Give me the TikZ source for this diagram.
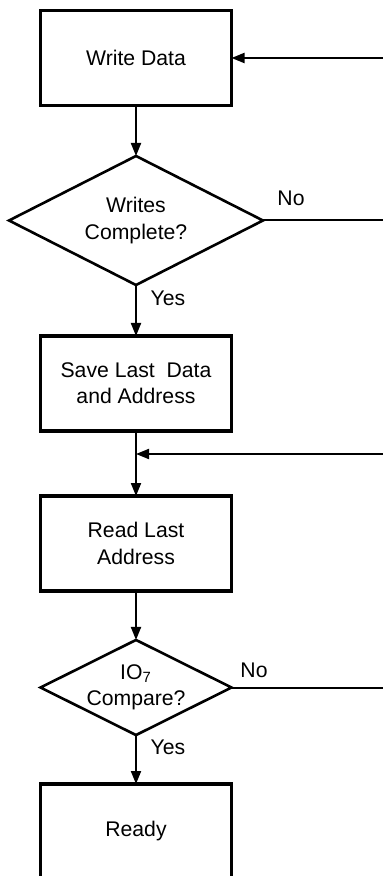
\documentclass[tikz,border=0pt]{standalone}
\usepackage{fontspec}
\setmainfont{Liberation Sans}
\usetikzlibrary{shapes.geometric,arrows.meta}
\tikzset{
    procbox/.style={draw, rectangle, line width=1.7pt, outer sep=0pt,
        minimum width=95.5pt, minimum height=47.5pt, align=center},
    decide/.style={draw, diamond, line width=1.3pt, outer sep=0pt, inner sep=0pt,
        shape aspect=2, align=center},
    flow/.style={line width=1pt, -{Triangle[length=6.5pt,width=5pt]}},
    plain/.style={line width=1pt},
    lbl/.style={inner sep=0pt}
}
\begin{document}
\begin{tikzpicture}[x=0.5pt,y=-0.5pt,
    font=\fontsize{10.6}{13.2}\selectfont]
    \useasboundingbox (0,0) rectangle (383,876);
    \clip (0,0) rectangle (383,876);
    % main column
    \node[procbox] (write) at (136,58) {Write Data};
    \node[decide, minimum width=127pt, minimum height=64.5pt] (dia1) at (136,220.5) {Writes\\Complete?};
    \node[procbox] (save) at (136,383.5) {Save Last\ \ Data\\and Address};
    \coordinate (join) at (136,454);
    \node[procbox] (read) at (136,543.5) {Read Last\\Address};
    \node[decide, minimum width=95.5pt, minimum height=47.5pt] (dia2) at (136,687.5) {IO\textsubscript{7}\\Compare?};
    \node[procbox] (ready) at (136,831.5) {Ready};
    % loose ends on the right
    \coordinate (back1) at (390,58);
    \coordinate (no1) at (390,220.5);
    \coordinate (back2) at (390,454);
    \coordinate (no2) at (390,687.5);
    % connectors
    \draw[flow] (write) -- (dia1);
    \draw[flow] (dia1) -- (save);
    \draw[plain] (save) -- (join);
    \draw[flow] (join) -- (read);
    \draw[flow] (read) -- (dia2);
    \draw[flow] (dia2) -- (ready);
    \draw[flow] (back1) -- (write);
    \draw[flow] (back2) -- (join);
    \draw[plain] (dia1.east) -- (no1);
    \draw[plain] (dia2.east) -- (no2);
    % labels
    \node[lbl] (no1lbl) at (291,198) {No};
    \node[lbl] (yes1lbl) at (168,298) {Yes};
    \node[lbl] (no2lbl) at (254,670) {No};
    \node[lbl] (yes2lbl) at (168,747) {Yes};
\end{tikzpicture}
\end{document}
